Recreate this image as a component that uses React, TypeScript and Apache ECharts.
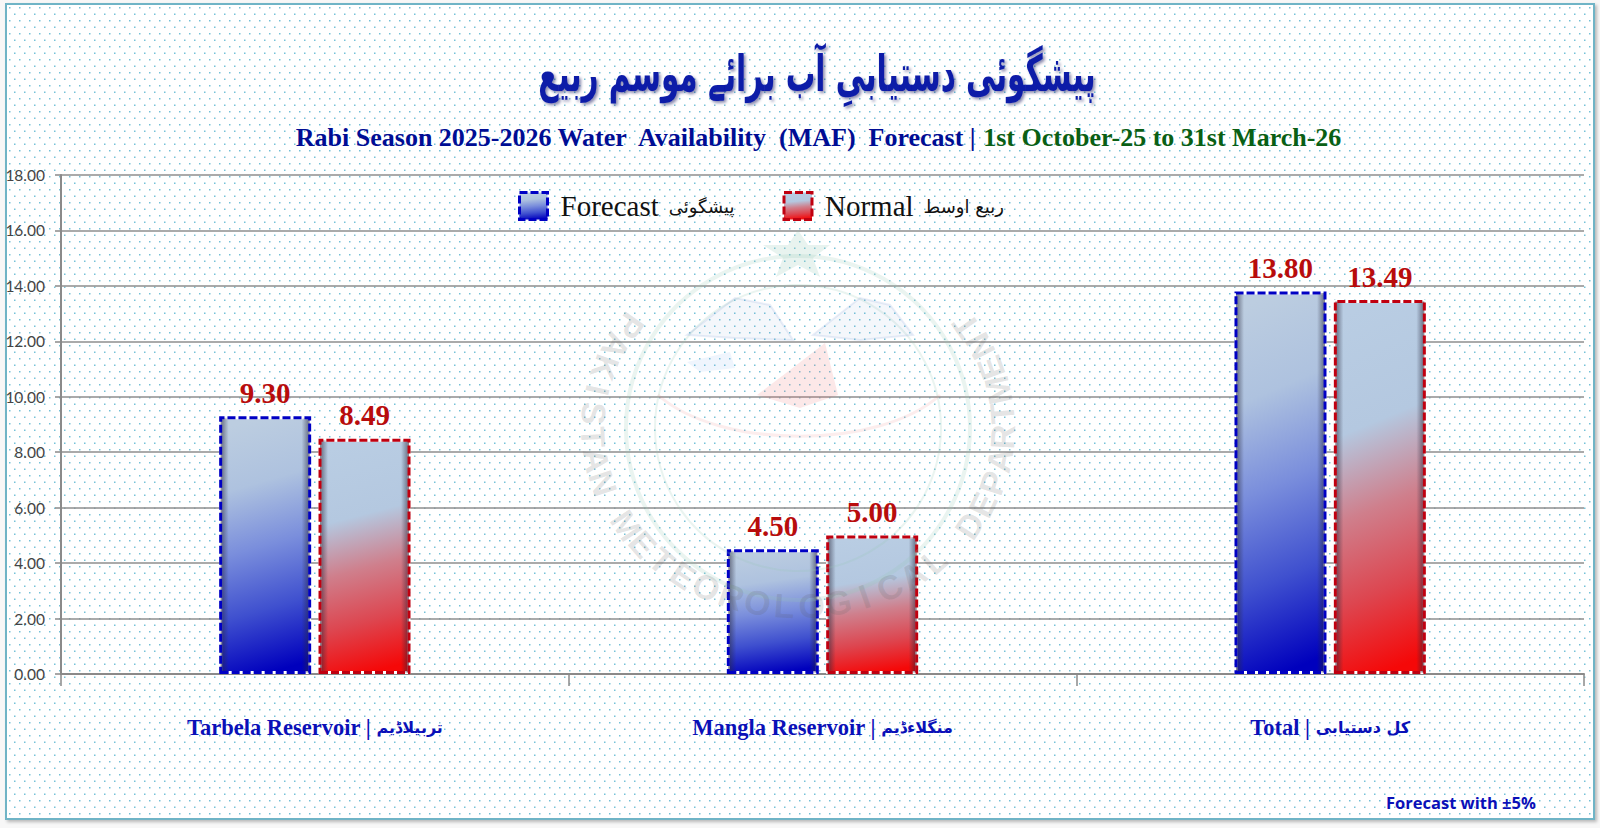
import React, { useEffect, useRef } from "react";
import * as echarts from "echarts";

const categories = ["Tarbela Reservoir", "Mangla Reservoir", "Total"];
const categoriesUrdu = ["تربیلاڈیم", "منگلاءڈیم", "کل دستیابی"];
const forecast = [9.3, 4.5, 13.8];
const normal = [8.49, 5.0, 13.49];
const forecastName = "Forecast پیشگوئی";
const normalName = "Normal ربیع اوسط";
const yTicks = { min: 0, max: 18, interval: 2 };
const titleUrdu = "پیشگوئی دستیابیِ آب برائے موسم ربیع";
const subtitleBlue = "Rabi Season 2025-2026 Water  Availability  (MAF)  Forecast | ";
const subtitleGreen = "1st October-25 to 31st March-26";
const footnote = "Forecast with ±5%";
const sealText = "PAKISTAN METEOROLOGICAL DEPARTMENT";

const SERIF = '"Liberation Serif", serif';
const URDU = '"DejaVu Sans", sans-serif';

const dots =
  "data:image/svg+xml;utf8," +
  encodeURIComponent(
    '<svg xmlns="http://www.w3.org/2000/svg" width="10" height="13"><rect x="2" y="2" width="1.5" height="1.5" fill="#3aa8c8" fill-opacity="0.7"/><rect x="7" y="8.5" width="1.5" height="1.5" fill="#3aa8c8" fill-opacity="0.7"/></svg>'
  );

const blueFill = new echarts.graphic.LinearGradient(0.45, 0, 0.55, 1, [
  { offset: 0, color: "#bccde0" },
  { offset: 0.25, color: "#aec2df" },
  { offset: 0.5, color: "#7a8edc" },
  { offset: 0.75, color: "#3f50cf" },
  { offset: 1, color: "#0000bd" },
]);
const redFill = new echarts.graphic.LinearGradient(0.45, 0, 0.55, 1, [
  { offset: 0, color: "#b9cde3" },
  { offset: 0.32, color: "#b4c8e0" },
  { offset: 0.55, color: "#cf7f8c" },
  { offset: 0.78, color: "#dd4650" },
  { offset: 1, color: "#f50808" },
]);
const edgeShade = new echarts.graphic.LinearGradient(0, 0, 1, 0, [
  { offset: 0, color: "rgba(40,40,60,0.6)" },
  { offset: 0.09, color: "rgba(40,40,60,0)" },
  { offset: 0.91, color: "rgba(40,40,60,0)" },
  { offset: 1, color: "rgba(40,40,60,0.6)" },
]);

function seal(): any[] {
  const cx = 798;
  const cy = 428;
  const out: any[] = [];
  const ringStroke = { fill: "none", stroke: "rgba(150,200,180,0.2)" };
  const wing = { fill: "rgba(120,150,210,0.08)", stroke: "rgba(120,150,210,0.16)", lineWidth: 2 };
  out.push({ type: "circle", silent: true, z: 50, shape: { cx, cy, r: 172 }, style: { ...ringStroke, lineWidth: 4 } });
  out.push({ type: "circle", silent: true, z: 50, shape: { cx, cy, r: 143 }, style: { ...ringStroke, lineWidth: 2 } });
  out.push({
    type: "polygon", silent: true, z: 50,
    shape: { points: [[798, 230], [808, 245], [830, 245], [813, 258], [820, 277], [798, 265], [776, 277], [783, 258], [763, 245], [788, 245]] },
    style: { fill: "rgba(150,200,180,0.22)" },
  });
  out.push({
    type: "polygon", silent: true, z: 50,
    shape: { points: [[687, 335], [735, 298], [770, 305], [793, 340], [735, 338]] },
    style: wing,
  });
  out.push({
    type: "polygon", silent: true, z: 50,
    shape: { points: [[813, 335], [860, 298], [890, 305], [913, 335], [860, 340]] },
    style: wing,
  });
  out.push({
    type: "polygon", silent: true, z: 50,
    shape: { points: [[687, 362], [730, 352], [735, 368], [700, 372]] },
    style: { fill: "rgba(120,170,235,0.12)" },
  });
  out.push({
    type: "polygon", silent: true, z: 50,
    shape: { points: [[825, 343], [838, 395], [800, 408], [757, 395], [790, 370]] },
    style: { fill: "rgba(235,110,110,0.16)" },
  });
  out.push({
    type: "bezierCurve", silent: true, z: 50,
    shape: { x1: 658, y1: 395, x2: 940, y2: 395, cpx1: 720, cpy1: 450, cpx2: 880, cpy2: 450 },
    style: { fill: "none", stroke: "rgba(235,130,130,0.14)", lineWidth: 3 },
  });
  const letters = sealText.split("");
  const start = 145;
  const end = 395;
  letters.forEach((ch, i) => {
    const deg = start + ((end - start) * i) / (letters.length - 1);
    const a = (deg * Math.PI) / 180;
    out.push({
      type: "text", silent: true, z: 50,
      x: cx + 205 * Math.cos(a), y: cy - 178 * Math.sin(a),
      rotation: a + Math.PI / 2,
      style: {
        text: ch, fill: "rgba(90,90,90,0.17)",
        font: 'bold 34px "Liberation Sans", sans-serif',
        align: "center", verticalAlign: "middle",
      },
    });
  });
  return out;
}

export default function App() {
  const ref = useRef<HTMLDivElement>(null);
  useEffect(() => {
    const chart = echarts.init(ref.current!, undefined, { renderer: "svg" });
    const grid = { left: 61, right: 16, top: 175, bottom: 154, containLabel: false };
    const barCfg = { barWidth: 92, barGap: "8%" };
    const labelCfg = (color: string) => ({
      show: true, position: "top" as const, distance: 9, color,
      fontFamily: SERIF, fontWeight: "bold" as const, fontSize: 29,
      formatter: (p: any) => Number(p.value).toFixed(2),
    });
    chart.setOption({
      animation: false,
      backgroundColor: "transparent",
      title: [
        {
          text: `{b|${subtitleBlue}}{g|${subtitleGreen}}`, left: 813, top: 119, textAlign: "center",
          textStyle: {
            rich: {
              b: { fontFamily: SERIF, fontSize: 26, fontWeight: "bold", color: "#000d94" },
              g: { fontFamily: SERIF, fontSize: 26, fontWeight: "bold", color: "#0a5f14" },
            },
          },
        },
        {
          text: footnote, left: 1381, top: 789,
          textStyle: { fontFamily: '"Open Sans", sans-serif', fontSize: 16.5, fontWeight: "bold", color: "#0a10b8" },
        },
      ],
      legend: {
        left: 513, top: 186, itemWidth: 28, itemHeight: 27, itemGap: 48, icon: "rect",
        selectedMode: false,
        data: [
          { name: forecastName, itemStyle: { color: blueFill, borderColor: "#0000c4", borderType: [8, 3], borderWidth: 3 } },
          { name: normalName, itemStyle: { color: redFill, borderColor: "#c00010", borderType: [8, 3], borderWidth: 3 } },
        ],
        formatter: (n: string) => {
          const i = n.indexOf(" ");
          return `{e|${n.slice(0, i)}}{u|${n.slice(i + 1)}}`;
        },
        textStyle: {
          rich: {
            e: { fontFamily: SERIF, fontSize: 29, color: "#111", padding: [0, 10, 0, 8] },
            u: { fontFamily: URDU, fontSize: 18, color: "#111" },
          },
        },
      },
      grid,
      xAxis: [0, 1].map((i) => ({
        type: "category",
        data: categories,
        show: i === 0,
        axisLine: { lineStyle: { color: "#8a8a8a", width: 2 } },
        axisTick: { show: true, length: 12, alignWithLabel: false, lineStyle: { color: "#8a8a8a", width: 1.5 } },
        axisLabel: {
          margin: 42,
          formatter: (v: string) => `{e|${v} | }{u|${categoriesUrdu[categories.indexOf(v)]}}`,
          rich: {
            e: { fontFamily: SERIF, fontSize: 22.5, fontWeight: "bold", color: "#0a10b8" },
            u: { fontFamily: URDU, fontSize: 16, fontWeight: "bold", color: "#0a10b8" },
          },
        },
      })),
      yAxis: {
        type: "value", ...yTicks,
        axisLine: { show: true, lineStyle: { color: "#8a8a8a", width: 2 } },
        axisTick: { show: true, length: 6, lineStyle: { color: "#8a8a8a", width: 1.5 } },
        axisLabel: {
          margin: 16, color: "#444", fontSize: 15.5, fontFamily: "Lato, sans-serif",
          formatter: (v: number) => v.toFixed(2),
        },
        splitLine: { lineStyle: { color: "#8e8e8e", width: 1.5 } },
      },
      series: [
        { name: forecastName, type: "bar", data: forecast, xAxisIndex: 0, z: 3, ...barCfg, itemStyle: { color: blueFill, borderColor: "#fff", borderWidth: 3 } },
        { name: normalName, type: "bar", data: normal, xAxisIndex: 0, z: 3, ...barCfg, itemStyle: { color: redFill, borderColor: "#fff", borderWidth: 3 } },
        { name: "forecast-edge", type: "bar", data: forecast, xAxisIndex: 1, z: 4, ...barCfg, itemStyle: { color: edgeShade, borderColor: "#0000c4", borderType: [8, 3], borderWidth: 3 }, label: labelCfg("#b80c0c") },
        { name: "normal-edge", type: "bar", data: normal, xAxisIndex: 1, z: 4, ...barCfg, itemStyle: { color: edgeShade, borderColor: "#c00010", borderType: [8, 3], borderWidth: 3 }, label: labelCfg("#b80c0c") },
      ],
      graphic: [
        {
          type: "text", silent: true, z: 10, x: 817, y: 74, scaleX: 0.67, scaleY: 1.15,
          style: {
            text: titleUrdu, fill: "#0a1aa8", font: `bold 44px ${URDU}`, align: "center", verticalAlign: "middle",
            textShadowColor: "rgba(0,0,80,0.45)", textShadowBlur: 3, textShadowOffsetX: 2, textShadowOffsetY: 2,
          },
        },
        ...seal(),
      ],
    });
    return () => chart.dispose();
  }, []);
  return (
    <div style={{ position: "absolute", left: 0, top: 0, width: 1600, height: 828, background: "#f7f7f7", overflow: "hidden" }}>
      <div style={{
        position: "absolute", left: 5, top: 3, width: 1586, height: 813,
        border: "2px solid #6fb4c6", backgroundColor: "#fff", backgroundImage: `url("${dots}")`,
        boxShadow: "2px 2px 3px rgba(0,0,0,0.25)",
      }} />
      <div ref={ref} style={{ position: "absolute", left: 0, top: 0, width: 1600, height: 828 }} />
    </div>
  );
}
